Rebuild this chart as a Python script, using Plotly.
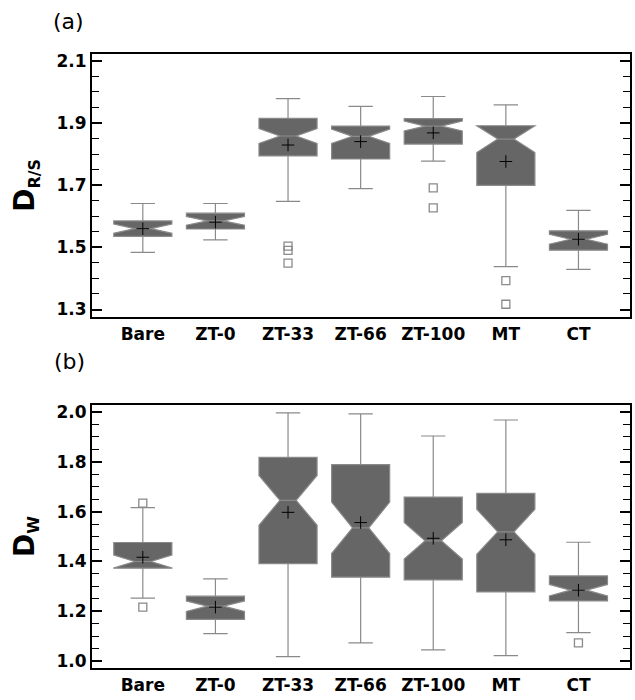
import plotly.graph_objects as go
from plotly.subplots import make_subplots

categories = ["Bare", "ZT-0", "ZT-33", "ZT-66", "ZT-100", "MT", "CT"]

# Panel (a): D_R/S
lowerfence_a = [1.484, 1.524, 1.648, 1.689, 1.777, 1.438, 1.429]
q1_a = [1.535, 1.559, 1.794, 1.784, 1.832, 1.699, 1.491]
median_a = [1.560, 1.585, 1.858, 1.857, 1.890, 1.848, 1.526]
q3_a = [1.585, 1.610, 1.915, 1.890, 1.914, 1.891, 1.553]
upperfence_a = [1.641, 1.641, 1.978, 1.953, 1.985, 1.958, 1.619]
mean_a = [1.560, 1.581, 1.829, 1.840, 1.868, 1.776, 1.526]
notch_a = [0.015, 0.014, 0.024, 0.023, 0.016, 0.043, 0.016]
outlier_x_a = ["ZT-33", "ZT-33", "ZT-33", "ZT-100", "ZT-100", "MT", "MT"]
outlier_y_a = [1.504, 1.490, 1.449, 1.691, 1.627, 1.393, 1.317]

# Panel (b): D_W
lowerfence_b = [1.253, 1.111, 1.019, 1.074, 1.046, 1.023, 1.115]
q1_b = [1.373, 1.168, 1.391, 1.337, 1.326, 1.278, 1.242]
median_b = [1.400, 1.221, 1.645, 1.535, 1.483, 1.519, 1.285]
q3_b = [1.476, 1.261, 1.817, 1.788, 1.658, 1.673, 1.342]
upperfence_b = [1.616, 1.330, 1.996, 1.992, 1.903, 1.967, 1.477]
mean_b = [1.417, 1.217, 1.597, 1.556, 1.493, 1.487, 1.285]
notch_b = [0.026, 0.021, 0.100, 0.103, 0.073, 0.090, 0.023]
outlier_x_b = ["Bare", "Bare", "CT"]
outlier_y_b = [1.634, 1.217, 1.074]

ytick_a = [1.3, 1.5, 1.7, 1.9, 2.1]
ytick_b = [1.0, 1.2, 1.4, 1.6, 1.8, 2.0]

BOX_FILL = "#666666"
BOX_LINE = "#8a8a8a"
FONT = "DejaVu Sans"

fig = make_subplots(rows=2, cols=1)

panels = [
    (1, lowerfence_a, q1_a, median_a, q3_a, upperfence_a, mean_a, notch_a, outlier_x_a, outlier_y_a),
    (2, lowerfence_b, q1_b, median_b, q3_b, upperfence_b, mean_b, notch_b, outlier_x_b, outlier_y_b),
]

for row, lf, q1, med, q3, uf, mn, ns, ox, oy in panels:
    fig.add_trace(go.Box(
        x=categories, q1=q1, median=med, q3=q3, lowerfence=lf, upperfence=uf,
        notchspan=ns, notched=True, notchwidth=0.36, width=0.8, whiskerwidth=0.42,
        fillcolor=BOX_FILL, line=dict(color=BOX_LINE, width=1.2),
        boxpoints=False, showlegend=False,
    ), row=row, col=1)
    fig.add_trace(go.Scatter(
        x=ox, y=oy, mode="markers", showlegend=False,
        marker=dict(symbol="square-open", size=8, color="#8a8a8a", line=dict(width=1.3)),
    ), row=row, col=1)
    fig.add_trace(go.Scatter(
        x=categories, y=mn, mode="markers", showlegend=False,
        marker=dict(symbol="cross-thin", size=9, line=dict(color="black", width=1)),
    ), row=row, col=1)

tickfont = dict(family=FONT, size=17, color="black", weight="bold")

common_x = dict(
    showline=True, mirror=True, linecolor="black", linewidth=2,
    ticks="", showgrid=False, zeroline=False, range=[-0.7, 6.71],
    tickfont=tickfont, domain=[0, 1], fixedrange=True,
)
common_y = dict(
    showline=True, mirror="allticks", linecolor="black", linewidth=2,
    ticks="inside", ticklen=10, tickwidth=1.6, tickcolor="black",
    showgrid=False, zeroline=False, tickfont=tickfont,
    minor=dict(ticks="inside", ticklen=7, tickwidth=1.4, tickcolor="black", dtick=0.05, showgrid=False),
)

fig.update_xaxes(**common_x)
fig.update_yaxes(**common_y)
fig.update_layout(
    yaxis=dict(domain=[0.5471, 0.9271], range=[1.275, 2.123], tickvals=ytick_a,
               ticktext=[f"{v:.1f}" for v in ytick_a]),
    yaxis2=dict(domain=[0.0414, 0.4214], range=[0.972, 2.029], tickvals=ytick_b,
                ticktext=[f"{v:.1f}" for v in ytick_b]),
)
fig.update_yaxes(minor_tick0=1.3, row=1, col=1)
fig.update_yaxes(minor_tick0=1.0, row=2, col=1)

fig.update_layout(
    width=635, height=700,
    margin=dict(l=92, r=5, t=0, b=0),
    paper_bgcolor="white", plot_bgcolor="white",
    font=dict(family=FONT, color="black"),
    annotations=[
        dict(text="(a)", x=-0.043, y=0.974, xref="paper", yref="paper", showarrow=False,
             xanchor="center", yanchor="middle", font=dict(family=FONT, size=22, color="black")),
        dict(text="(b)", x=-0.041, y=0.483, xref="paper", yref="paper", showarrow=False,
             xanchor="center", yanchor="middle", font=dict(family=FONT, size=22, color="black")),
        dict(text='<b>D</b><sub><span style="font-size:16px"><b>R/S</b></span></sub>',
             x=-0.124, y=0.737, xref="paper", yref="paper",
             showarrow=False, textangle=-90, xanchor="center", yanchor="middle",
             font=dict(family=FONT, size=28, color="black")),
        dict(text='<b>D</b><sub><span style="font-size:16px"><b>W</b></span></sub>',
             x=-0.124, y=0.231, xref="paper", yref="paper",
             showarrow=False, textangle=-90, xanchor="center", yanchor="middle",
             font=dict(family=FONT, size=28, color="black")),
    ],
)

fig.write_html("out.html")
